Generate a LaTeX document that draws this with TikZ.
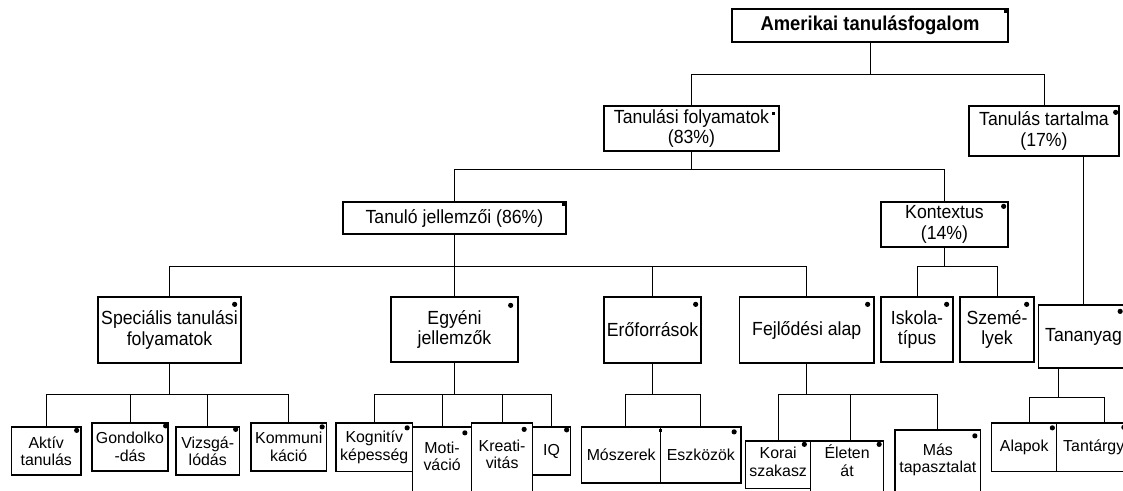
\documentclass[tikz,border=0pt]{standalone}
\usepackage{fontspec}
\setmainfont{Liberation Sans}
\newfontfamily\upfam[FakeStretch=0.93]{Liberation Sans}
\newfontfamily\topfam[FakeStretch=0.92]{Liberation Sans}
\newcommand\fontUp{\upfam\fontsize{19}{20.5}\selectfont}
\newcommand\fontLow{\fontsize{15.9}{17.5}\selectfont}
\newcommand\fontTop{\topfam\fontsize{20}{21}\selectfont\bfseries}
\newcommand\mk[3]{\fill ([shift={(#2,#3)}]#1.north east) circle (2.6pt);}
\newcommand\mq[3]{\fill ([shift={(#2,#3)}]#1.north east) ++(-1.8pt,-1.8pt) rectangle ++(3.6pt,3.6pt);}
\tikzset{
  box/.style={draw, line width=1.3pt, fill=white, inner sep=0pt, align=center, font=\fontUp},
  low/.style={box, font=\fontLow},
  txt/.style={inner sep=0pt, align=center, font=\fontLow},
  conn/.style={line width=1pt}
}
\begin{document}
\begin{tikzpicture}[x=1pt,y=-1pt]
\useasboundingbox (0,0) rectangle (1123,490);
\fill[white] (0,0) rectangle (1123,490);
% level 0-2
\node[box, font=\fontTop, minimum width=276pt, minimum height=33pt] (root) at (870,25.5) {Amerikai tanulásfogalom};
\node[box, minimum width=175pt, minimum height=45pt] (tf) at (691.5,128.5) {Tanulási folyamatok\\(83\%)};
\node[box, minimum width=150pt, minimum height=50pt] (tt) at (1044,131) {Tanulás tartalma\\(17\%)};
\node[box, minimum width=223pt, minimum height=32pt] (tj) at (454.5,218) {Tanuló jellemzői (86\%)};
\node[box, minimum width=127pt, minimum height=45pt] (kx) at (944.5,224.5) {Kontextus\\(14\%)};
% level 3
\node[box, minimum width=143pt, minimum height=66pt] (sp) at (169.5,330) {Speciális tanulási\\folyamatok};
\node[box, minimum width=127pt, minimum height=65pt] (eg) at (454.5,329.5) {Egyéni\\jellemzők};
\node[box, minimum width=97pt, minimum height=66pt] (ef) at (652.5,330) {Erőforrások};
\node[box, minimum width=134.5pt, minimum height=66pt] (fa) at (806.75,330) {Fejlődési alap};
\node[box, minimum width=72pt, minimum height=65pt] (is) at (917,329.5) {Iskola-\\típus};
\node[box, minimum width=74pt, minimum height=65pt] (sz) at (997,329.5) {Szemé-\\lyek};
\node[box, minimum width=90pt, minimum height=63pt] (tn) at (1083.5,336.5) {Tananyag};
% level 4
\node[low, minimum width=69.5pt, minimum height=48pt] (ak) at (46.25,451) {Aktív\\tanulás};
\node[low, minimum width=76pt, minimum height=48pt] (go) at (130,447) {Gondolko\\-dás};
\node[low, minimum width=63.5pt, minimum height=48pt] (vi) at (207.75,451) {Vizsgá-\\lódás};
\node[low, minimum width=75.5pt, minimum height=48pt] (ko) at (288.75,447) {Kommuni\\káció};
\node[low, minimum width=76.5pt, minimum height=48.5pt] (kg) at (374.25,447.25) {Kognitív\\képesség};
\node[low, minimum width=59.2pt, minimum height=73pt] (mo) at (442.1,463.5) {};
\node[txt] (tmo) at (442.1,456.4) {Moti-\\váció};
\node[low, minimum width=60.8pt, minimum height=77pt] (kr) at (502.1,461.5) {};
\node[txt] (tkr) at (502.1,454.3) {Kreati-\\vitás};
\node[low, minimum width=38.2pt, minimum height=48pt] (iq) at (551.6,451) {IQ};
\node[low, minimum width=79pt, minimum height=56pt] (ms) at (621.2,455) {Mószerek};
\node[low, minimum width=80.3pt, minimum height=56pt] (esz) at (700.85,455) {Eszközök};
\node[low, minimum width=65pt, minimum height=47.5pt] (kor) at (778.2,464.75) {};
\node[txt] (tkor) at (778.2,461.9) {Korai\\szakasz};
\node[low, minimum width=72.8pt, minimum height=59pt] (el) at (847.1,470.5) {};
\node[txt] (tel) at (847.1,460.5) {Életen\\át};
\node[low, minimum width=85.7pt, minimum height=70pt] (mas) at (937.85,465) {};
\node[txt] (tmas) at (937.85,460) {Más\\tapasztalat};
\node[low, minimum width=65pt, minimum height=48.7pt] (al) at (1024.2,447.35) {Alapok};
\node[low, minimum width=74pt, minimum height=48.7pt] (ta) at (1093.7,447.35) {Tantárgy};
% bus levels
\coordinate (L1) at (0,74);
\coordinate (L2) at (0,169);
\coordinate (L3) at (0,266);
\coordinate (L4) at (0,394);
\coordinate (L5) at (0,397.3);
\coordinate (msN) at ([xshift=4.5pt]ms.north);
\coordinate (elN) at ([xshift=3.5pt]el.north);
\coordinate (alN) at ([xshift=5pt]al.north);
\coordinate (taN) at ([xshift=10.6pt]ta.north);
\coordinate (tnS) at ([xshift=-25.2pt]tn.south);
% connectors
\begin{scope}[conn]
\draw (root.south) -- (root.south |- L1);
\draw (tf.north) |- (tt.north |- L1) -- (tt.north);
\draw (tf.south) -- (tf.south |- L2);
\draw (tj.north) |- (kx.north |- L2) -- (kx.north);
\draw (tj.south) -- (tj.south |- L3);
\draw (sp.north) |- (fa.north |- L3) -- (fa.north);
\draw (eg.north) -- (eg.north |- L3);
\draw (ef.north) -- (ef.north |- L3);
\draw (kx.south) -- (kx.south |- L3);
\draw (is.north) |- (sz.north |- L3) -- (sz.north);
\draw (tn.north) -- (tn.north |- tt.south);
\draw (sp.south) -- (sp.south |- L4);
\draw (ak.north) |- (ko.north |- L4) -- (ko.north);
\draw (go.north) -- (go.north |- L4);
\draw (vi.north) -- (vi.north |- L4);
\draw (eg.south) -- (eg.south |- L4);
\draw (kg.north) |- (iq.north |- L4) -- (iq.north);
\draw (mo.north) -- (mo.north |- L4);
\draw (kr.north) -- (kr.north |- L4);
\draw (ef.south) -- (ef.south |- L4);
\draw (msN) |- (esz.north |- L4) -- (esz.north);
\draw (fa.south) -- (fa.south |- L4);
\draw (kor.north) |- (mas.north |- L4) -- (mas.north);
\draw (elN) -- (elN |- L4);
\draw (tnS) -- (tnS |- L5);
\draw (alN) |- (taN |- L5) -- (taN);
\end{scope}
% corner marks
\mq{root}{-3}{3}
\mq{tf}{-6}{8}
\mk{tt}{-4}{7}
\mq{tj}{-3}{3}
\mk{kx}{-5}{5}
\mk{sp}{-7}{8}
\mk{eg}{-8}{9}
\mk{ef}{-6}{8}
\mk{fa}{-7}{8}
\mk{is}{-7}{8}
\mk{sz}{-8}{8}
\mk{tn}{-9}{7}
\mk{ak}{-5}{4}
\mk{go}{-3}{3.5}
\mk{vi}{-4.5}{3}
\mk{ko}{-5}{4.5}
\mk{kg}{-6}{5.5}
\mk{mo}{-7.5}{6.5}
\mk{kr}{-9}{7}
\mk{iq}{-4.7}{3.5}
\mq{ms}{-1}{4}
\mk{esz}{-7.5}{5.5}
\mk{kor}{-7}{4}
\mk{el}{-5}{4}
\mk{mas}{-6.5}{6.5}
\mk{al}{-5}{5.5}
\mk{ta}{-7.5}{5}
\end{tikzpicture}
\end{document}
